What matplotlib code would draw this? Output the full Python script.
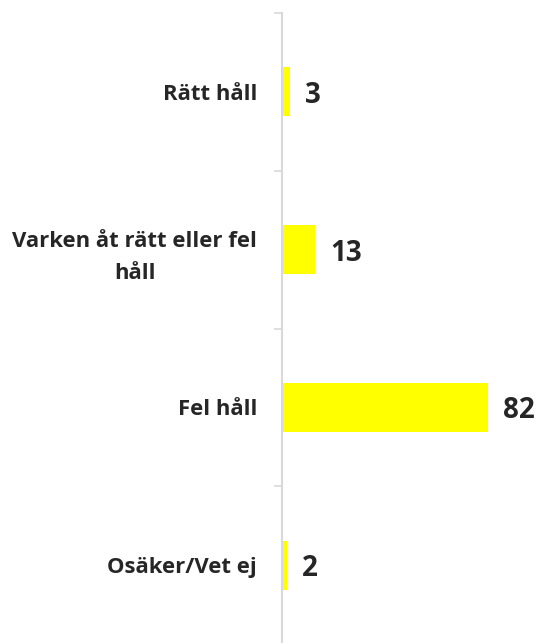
import matplotlib.pyplot as plt
import numpy as np

categories = ['Rätt håll', 'Varken åt rätt eller fel\nhåll', 'Fel håll', 'Osäker/Vet ej']
values = [3, 13, 82, 2]

plt.rcParams['font.family'] = ['Open Sans', 'DejaVu Sans']

fig = plt.figure(figsize=(5.41, 6.43), dpi=100)
ax = fig.add_axes([282 / 541, (643 - 644) / 643, 251 / 541, 631 / 643])

y = np.arange(len(categories))
ax.barh(y, values, height=0.31, color='#FFFF00')
ax.set_xlim(0, 100)
ax.set_ylim(len(categories) - 0.5, -0.5)

for yi, v in zip(y, values):
    ax.annotate(str(v), (v, yi), xytext=(11, -2.5), textcoords='offset points',
                va='center', ha='left', fontsize=20, fontweight='bold', color='#262626')

ax.set_yticks(y)
ax.set_yticklabels(categories, fontsize=15.9, fontweight='bold', color='#262626',
                   multialignment='center', linespacing=1.65)
ax.tick_params(axis='y', which='major', length=0, pad=18)
ax.set_yticks(np.arange(-0.5, len(categories), 1), minor=True)
ax.tick_params(axis='y', which='minor', length=6, width=1.2, color='#D9D9D9')
ax.set_xticks([])

for s in ['top', 'right', 'bottom']:
    ax.spines[s].set_visible(False)
ax.spines['left'].set_color('#D9D9D9')
ax.spines['left'].set_linewidth(1.5)

fig.savefig('out.png', dpi=100)
